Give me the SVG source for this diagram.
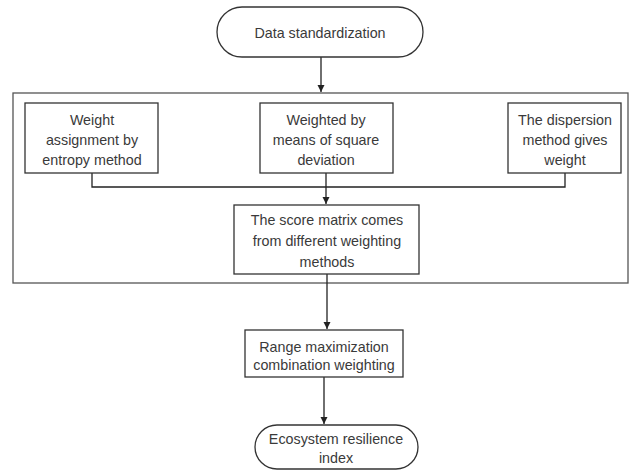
<svg xmlns="http://www.w3.org/2000/svg" width="630" height="473" viewBox="0 0 630 473">
<style>
.b{fill:#fff;stroke:#333;stroke-width:1.3}
.o{fill:none;stroke:#555;stroke-width:1.3}
.c{fill:none;stroke:#222;stroke-width:1.3}
text{font-family:"Liberation Sans",Arial,sans-serif;font-size:14.3px;fill:#3a3a3a;text-anchor:middle}
</style>
<defs>
<marker id="a" markerWidth="8" markerHeight="8" refX="7" refY="4" orient="auto" markerUnits="userSpaceOnUse">
<path d="M0,0.5 L7,4 L0,7.5 Z" fill="#222"/>
</marker>
</defs>
<rect x="13" y="93" width="615" height="190" class="o"/>
<g id="connectors">
<path d="M321,57 V92" class="c" marker-end="url(#a)"/>
<path d="M92,173 V187 H565 V173" class="c"/>
<path d="M326,173 V204" class="c" marker-end="url(#a)"/>
<path d="M327,274 V329" class="c" marker-end="url(#a)"/>
<path d="M324,377 V424" class="c" marker-end="url(#a)"/>
</g>
<g id="n1"><rect x="217" y="7" width="206" height="50" rx="25" class="b"/><text x="320" y="38">Data standardization</text></g>
<g id="n2"><rect x="25" y="103" width="133" height="70" class="b"/><text x="92" y="125">Weight</text><text x="92" y="145">assignment by</text><text x="92" y="165">entropy method</text></g>
<g id="n3"><rect x="260" y="103" width="133" height="70" class="b"/><text x="326" y="125">Weighted by</text><text x="326" y="145">means of square</text><text x="326" y="165">deviation</text></g>
<g id="n4"><rect x="508" y="103" width="113" height="70" class="b"/><text x="565" y="125">The dispersion</text><text x="565" y="145">method gives</text><text x="565" y="165">weight</text></g>
<g id="n5"><rect x="234" y="205" width="185" height="69" class="b"/><text x="327" y="225">The score matrix comes</text><text x="327" y="246">from different weighting</text><text x="327" y="267">methods</text></g>
<g id="n6"><rect x="245" y="330" width="158" height="47" class="b"/><text x="324" y="352">Range maximization</text><text x="324" y="370">combination weighting</text></g>
<g id="n7"><rect x="255" y="425" width="163" height="44" rx="22" class="b"/><text x="336" y="444">Ecosystem resilience</text><text x="336" y="463">index</text></g>
</svg>
